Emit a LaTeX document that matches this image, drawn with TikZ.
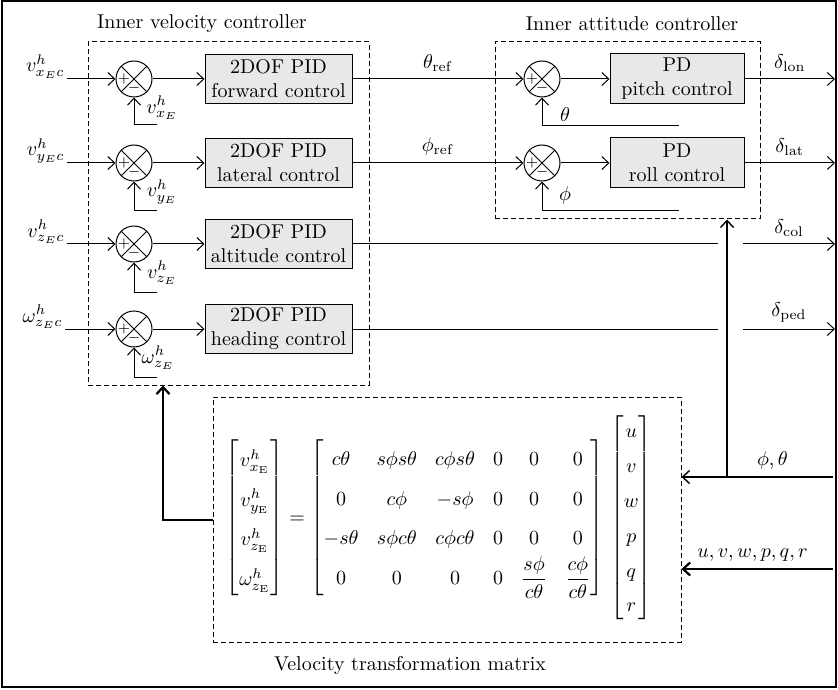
\documentclass[tikz,border=0pt]{standalone}
\usepackage{amsmath,amssymb}
\usepackage{xcolor}
\usepackage{tikz}
\usetikzlibrary{positioning,arrows.meta,calc}
\definecolor{boxgray}{HTML}{E8E8E8}

\begin{document}
\begin{tikzpicture}[
    x=0.5pt, y=-0.5pt, line width=0.5pt,
    pidbox/.style={draw, fill=boxgray, align=center, minimum width=73.5pt, minimum height=24.5pt, inner sep=1pt},
    pdbox/.style={pidbox, minimum width=67pt, minimum height=25pt},
    sumjct/.style={draw, circle, minimum size=18pt, inner sep=0pt, path picture={
        \draw (path picture bounding box.north west) -- (path picture bounding box.south east)
              (path picture bounding box.north east) -- (path picture bounding box.south west);
        \node[font=\scriptsize, inner sep=0pt] at ([xshift=-5pt]path picture bounding box.center) {$+$};
        \node[font=\scriptsize, inner sep=0pt] at ([yshift=-4.5pt]path picture bounding box.center) {$-$};}},
    group/.style={draw, dash pattern=on 2.5pt off 1.5pt, inner sep=0pt},
    arr/.style={-{Straight Barb[length=3.5pt,width=6.5pt]}},
    heavy/.style={arr, line width=1.1pt},
    sig/.style={inner sep=1pt}
]
    \useasboundingbox (0,0) rectangle (838,689);
    \draw[line width=0.6pt] (2,1) rectangle (836,687);

    % Controller groups
    \node[group, minimum width=140.5pt, minimum height=171.5pt] (velgrp) at (228.5,213.5) {};
    \node (veltitle) at (202,24) {Inner velocity controller};
    \node[group, minimum width=132.5pt, minimum height=88.5pt] (attgrp) at (627.5,130.5) {};
    \node (atttitle) at (632,24) {Inner attitude controller};
    \node[group, minimum width=234pt, minimum height=122.5pt] (mtxgrp) at (447,519.5) {};
    \node (mtxtitle) at (410,665) {Velocity transformation matrix};

    % Velocity loops
    \node[sumjct] (sv1) at (134,79) {};
    \node[pidbox, right=26pt of sv1] (fwd) {2DOF PID\\forward control};
    \node[sumjct] (sv2) at (134,163) {};
    \node[pidbox, right=26pt of sv2] (lat) {2DOF PID\\lateral control};
    \node[sumjct] (sv3) at (134,244) {};
    \node[pidbox, right=26pt of sv3] (alt) {2DOF PID\\altitude control};
    \node[sumjct] (sv4) at (134,329) {};
    \node[pidbox, right=26pt of sv4] (hdg) {2DOF PID\\heading control};

    \node[sig, anchor=base east] (vxc) at (67,72) {$v^h_{x_Ec}$};
    \node[sig, anchor=base east] (vyc) at (67,156) {$v^h_{y_Ec}$};
    \node[sig, anchor=base east] (vzc) at (67,237) {$v^h_{z_Ec}$};
    \node[sig, anchor=base east] (wzc) at (65,322) {$\omega^h_{z_Ec}$};
    \draw[arr] (vxc.east |- sv1) -- (sv1);
    \draw[arr] (vyc.east |- sv2) -- (sv2);
    \draw[arr] (vzc.east |- sv3) -- (sv3);
    \draw[arr] (wzc.east |- sv4) -- (sv4);
    \draw[arr] (sv1) -- (fwd);
    \draw[arr] (sv2) -- (lat);
    \draw[arr] (sv3) -- (alt);
    \draw[arr] (sv4) -- (hdg);

    % Velocity feedback
    \coordinate (fv1) at (157,125);
    \coordinate (fv2) at (157,211);
    \coordinate (fv3) at (157,292);
    \coordinate (fv4) at (157,377);
    \draw[arr] (fv1) -| (sv1);
    \draw[arr] (fv2) -| (sv2);
    \draw[arr] (fv3) -| (sv3);
    \draw[arr] (fv4) -| (sv4);
    \node[sig] (vx) at (162,108) {$v^h_{x_E}$};
    \node[sig] (vy) at (162,192) {$v^h_{y_E}$};
    \node[sig] (vz) at (162,273) {$v^h_{z_E}$};
    \node[sig] (wz) at (158,358) {$\omega^h_{z_E}$};

    % Attitude loops
    \node[sumjct] (sa1) at (542,79) {};
    \node[pdbox, right=24.5pt of sa1] (pitch) {PD\\pitch control};
    \node[sumjct] (sa2) at (542,163) {};
    \node[pdbox, right=24.5pt of sa2] (roll) {PD\\roll control};
    \draw[arr] (fwd) -- (sa1) node[midway, above] (thref) {$\theta_{\mathrm{ref}}$};
    \draw[arr] (lat) -- (sa2) node[midway, above] (phref) {$\phi_{\mathrm{ref}}$};
    \draw[arr] (sa1) -- (pitch);
    \draw[arr] (sa2) -- (roll);
    \coordinate (fa1) at (679,126);
    \coordinate (fa2) at (679,211);
    \draw[arr] (fa1) -| (sa1);
    \draw[arr] (fa2) -| (sa2);
    \node[sig] (th) at (565,115) {$\theta$};
    \node[sig] (ph) at (565,196) {$\phi$};

    % Actuator outputs
    \coordinate (lonend) at (835,79);
    \coordinate (latend) at (835,163);
    \draw[arr] (pitch) -- (lonend) node[midway, above] (dlon) {$\delta_{\mathrm{lon}}$};
    \draw[arr] (roll) -- (latend) node[midway, above] (dlat) {$\delta_{\mathrm{lat}}$};
    \coordinate (colcut) at (718,244);
    \coordinate (colout) at (743,244);
    \coordinate (colend) at (835,244);
    \draw (alt) -- (colcut);
    \draw[arr] (colout) -- (colend) node[midway, above] (dcol) {$\delta_{\mathrm{col}}$};
    \coordinate (pedcut) at (718,329);
    \coordinate (pedout) at (743,329);
    \coordinate (pedend) at (835,329);
    \draw (hdg) -- (pedcut);
    \draw[arr] (pedout) -- (pedend) node[midway, above] (dped) {$\delta_{\mathrm{ped}}$};

    % Transformation matrix
    \node (mtx) at (439,518) {$\renewcommand{\arraystretch}{1.65}\setlength{\arraycolsep}{4.5pt}
        \begin{bmatrix} v^h_{x_{\mathrm{E}}}\\ v^h_{y_{\mathrm{E}}}\\ v^h_{z_{\mathrm{E}}}\\ \omega^h_{z_{\mathrm{E}}} \end{bmatrix}
        =
        \begin{bmatrix}
            c\theta & s\phi s\theta & c\phi s\theta & 0 & 0 & 0\\
            0 & c\phi & -s\phi & 0 & 0 & 0\\
            -s\theta & s\phi c\theta & c\phi c\theta & 0 & 0 & 0\\
            0 & 0 & 0 & 0 & \dfrac{s\phi}{c\theta} & \dfrac{c\phi}{c\theta}
        \end{bmatrix}\,
        {\renewcommand{\arraystretch}{1.45}
        \begin{bmatrix} u\\ v\\ w\\ p\\ q\\ r \end{bmatrix}}$};

    % Connections to the matrix
    \coordinate (angin) at (833,477);
    \coordinate (tap) at (727,477);
    \draw[arr, line width=0.7pt] (angin) -- (angin -| mtxgrp.east) node[pos=0.4, above] (dang) {$\phi, \theta$};
    \draw[arr, line width=0.7pt] (tap) -- (tap |- attgrp.south);
    \coordinate (statein) at (833,569);
    \draw[heavy] (statein) -- (statein -| mtxgrp.east) node[pos=0.53, above] (dstate) {$u, v, w, p, q, r$};
    \coordinate (fbk) at (163,520);
    \draw[heavy] (fbk -| mtxgrp.west) -- (fbk) -- (fbk |- velgrp.south);
\end{tikzpicture}
\end{document}
